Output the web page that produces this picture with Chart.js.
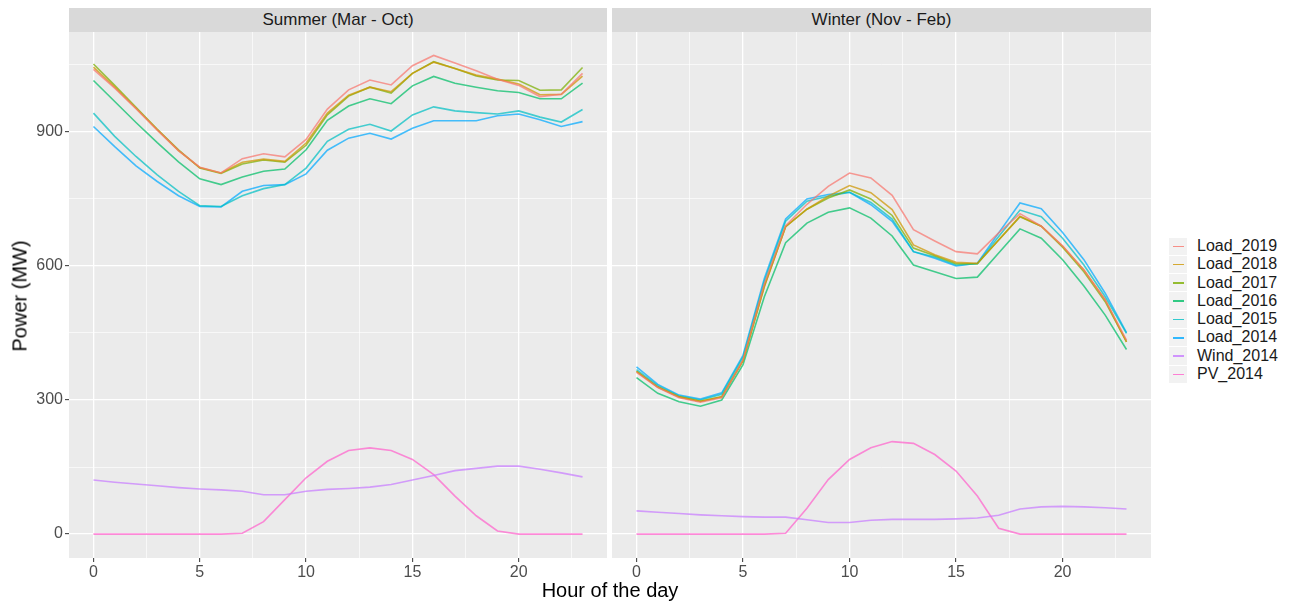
<!DOCTYPE html>
<html>
<head>
<meta charset="utf-8">
<script src="https://cdn.jsdelivr.net/npm/chart.js@4.4.1/dist/chart.umd.min.js"></script>
<style>
  html, body { margin:0; padding:0; background:#fff; }
  body { width:1289px; height:602px; position:relative; overflow:hidden; font-family:"Liberation Sans", Arial, sans-serif; }
  canvas { position:absolute; }
  .strip { position:absolute; top:8px; height:24px; background:#D9D9D9; color:#1A1A1A; font-size:17px; line-height:24px; text-align:center; }
  .ytitle { position:absolute; left:20px; top:296px; transform:translate(-50%,-50%) rotate(-90deg); font-size:20px; color:#000; white-space:nowrap; }
  .xtitle { position:absolute; left:610px; top:590px; transform:translate(-50%,-50%); font-size:20px; color:#000; white-space:nowrap; }
  #legend { position:absolute; left:1169px; top:237px; }
  .item { position:relative; height:18.3px; }
  .key { position:absolute; left:0; top:0.5px; width:18px; height:17.3px; background:#F2F2F2; }
  .key i { position:absolute; left:4px; right:3px; top:8px; height:1.6px; }
  .lab { position:absolute; left:28px; top:0; font-size:16px; line-height:18.3px; color:#1A1A1A; white-space:nowrap; }
</style>
</head>
<body>
<div class="strip" style="left:69px;width:538px;">Summer (Mar - Oct)</div>
<div class="strip" style="left:612px;width:539px;">Winter (Nov - Feb)</div>
<canvas id="cS" width="607" height="556" style="left:0px;top:32px;width:607px;height:556px;"></canvas>
<canvas id="cW" width="539" height="556" style="left:612px;top:32px;width:539px;height:556px;"></canvas>
<div class="ytitle">Power (MW)</div>
<div class="xtitle">Hour of the day</div>
<div id="legend"></div>
<script>
// ---- data ----
const hours = [0,1,2,3,4,5,6,7,8,9,10,11,12,13,14,15,16,17,18,19,20,21,22,23];
const seriesNames = ["Load_2019","Load_2018","Load_2017","Load_2016","Load_2015","Load_2014","Wind_2014","PV_2014"];
const panelTitles = ["Summer (Mar - Oct)","Winter (Nov - Feb)"];
const xMajorTicks = [0,5,10,15,20];
const xMinorTicks = [2.5,7.5,12.5,17.5,22.5];
const yMajorTicks = [0,300,600,900];
const yMinorTicks = [150,450,750,1050];

// Summer (Mar - Oct)
const summerLoad2019 = [1040,998,952,904,858,821,808,840,851,844,883,951,994,1016,1005,1048,1071,1054,1037,1018,1004,979,984,1031];
const summerLoad2018 = [1045,1000,953,905,858,820,808,832,839,834,875,942,982,1000,990,1031,1056,1042,1027,1018,1007,983,984,1025];
const summerLoad2017 = [1052,1004,955,906,860,819,807,828,837,832,870,938,980,1000,987,1031,1057,1042,1025,1016,1015,993,994,1044];
const summerLoad2016 = [1015,968,921,876,833,795,782,799,812,817,860,926,958,974,963,1003,1024,1009,1000,992,988,974,974,1009];
const summerLoad2015 = [942,890,845,804,767,735,733,757,773,782,819,879,906,917,902,938,956,947,943,940,947,933,922,950];
const summerLoad2014 = [912,867,824,789,757,733,732,767,780,782,806,859,886,897,884,908,925,925,925,936,940,927,912,923];
const summerWind2014 = [121,116,112,108,104,101,99,96,88,88,96,100,102,105,111,121,131,142,147,152,152,145,137,128];
const summerPV2014   = [0,0,0,0,0,0,0,2,28,77,126,163,187,193,187,167,133,85,41,7,0,0,0,0];

// Winter (Nov - Feb)
const winterLoad2019 = [362,328,305,295,305,390,560,690,738,778,808,797,758,681,656,632,627,674,717,689,645,591,524,434];
const winterLoad2018 = [364,329,307,297,307,388,553,688,727,756,780,764,726,647,625,608,606,658,711,689,644,591,524,430];
const winterLoad2017 = [364,329,307,297,307,388,555,688,727,752,770,750,713,640,623,605,605,658,710,689,642,587,520,430];
const winterLoad2016 = [350,315,296,286,300,379,531,652,696,720,730,707,667,602,587,572,575,629,683,662,614,555,490,413];
const winterLoad2015 = [368,332,309,300,313,396,566,700,745,756,765,742,705,632,620,602,605,666,725,710,662,602,531,449];
const winterLoad2014 = [374,335,311,302,316,400,572,705,750,760,765,737,700,632,617,600,606,674,741,728,675,614,539,451];
const winterWind2014 = [52,49,46,43,41,39,38,38,32,26,26,31,33,33,33,34,36,42,56,61,62,61,59,56];
const winterPV2014   = [0,0,0,0,0,0,0,2,58,122,167,193,207,203,178,141,85,13,0,0,0,0,0,0];

// ---- styles ----
const palette = ["#F8766D","#CD9600","#7CAE00","#00BE67","#00BFC4","#00A9FF","#C77CFF","#FF61CC"];
function withAlpha(hex, a){
  const r=parseInt(hex.slice(1,3),16), g=parseInt(hex.slice(3,5),16), b=parseInt(hex.slice(5,7),16);
  return `rgba(${r},${g},${b},${a})`;
}

const summerSeries = [summerLoad2019,summerLoad2018,summerLoad2017,summerLoad2016,summerLoad2015,summerLoad2014,summerWind2014,summerPV2014];
const winterSeries = [winterLoad2019,winterLoad2018,winterLoad2017,winterLoad2016,winterLoad2015,winterLoad2014,winterWind2014,winterPV2014];

function makeDatasets(series){
  return series.map((vals,i)=>({
    label: seriesNames[i],
    data: hours.map((h,j)=>({x:h, y:vals[j]})),
    borderColor: withAlpha(palette[i],0.72),
    backgroundColor: withAlpha(palette[i],0.72),
    borderWidth: 1.6,
    pointRadius: 0,
    tension: 0,
    fill: false
  }));
}

const bgPlugin = {
  id:'panelBg',
  beforeDraw(chart){
    const a = chart.chartArea, c = chart.ctx;
    c.save(); c.fillStyle = '#EBEBEB'; c.fillRect(a.left, a.top, a.right-a.left, a.bottom-a.top); c.restore();
  }
};

const isMajorX = v => xMajorTicks.includes(v);
const isMajorY = v => yMajorTicks.includes(v);

function makeChart(id, series, showY){
  const allX = xMajorTicks.concat(xMinorTicks).sort((a,b)=>a-b);
  const allY = yMajorTicks.concat(yMinorTicks).sort((a,b)=>a-b);
  return new Chart(document.getElementById(id), {
    type:'line',
    data:{ datasets: makeDatasets(series) },
    plugins:[bgPlugin],
    options:{
      responsive:false, animation:false, devicePixelRatio:1,
      layout:{ padding:0 },
      plugins:{ legend:{display:false}, title:{display:false}, tooltip:{enabled:false} },
      scales:{
        x:{
          type:'linear', min:-1.15, max:24.15,
          afterBuildTicks(s){ s.ticks = allX.map(v=>({value:v})); },
          afterFit(s){ s.height = 30; s.paddingLeft = 0; s.paddingRight = 0; },
          border:{display:false},
          grid:{
            color:'#FFFFFF',
            lineWidth: ctx => (ctx.tick && isMajorX(ctx.tick.value)) ? 1.3 : 0.65,
            tickColor: ctx => (ctx.tick && isMajorX(ctx.tick.value)) ? '#333333' : 'rgba(0,0,0,0)',
            tickWidth: 1, tickLength: 4, drawTicks:true
          },
          ticks:{
            autoSkip:false, maxRotation:0, padding:1,
            color:'#4D4D4D', font:{family:'"Liberation Sans", Arial, sans-serif', size:16},
            callback: v => isMajorX(v) ? String(v) : ''
          }
        },
        y:{
          type:'linear', min:-53.5, max:1123.5,
          afterBuildTicks(s){ s.ticks = allY.map(v=>({value:v})); },
          afterFit(s){ s.width = showY ? 69 : 0; s.paddingTop = 0; s.paddingBottom = 0; },
          border:{display:false},
          grid:{
            color:'#FFFFFF',
            lineWidth: ctx => (ctx.tick && isMajorY(ctx.tick.value)) ? 1.3 : 0.65,
            tickColor: ctx => (showY && ctx.tick && isMajorY(ctx.tick.value)) ? '#333333' : 'rgba(0,0,0,0)',
            tickWidth: 1, tickLength: showY ? 4 : 0, drawTicks: showY
          },
          ticks:{
            display: showY, padding:2,
            color:'#4D4D4D', font:{family:'"Liberation Sans", Arial, sans-serif', size:16},
            callback: v => isMajorY(v) ? String(v) : ''
          }
        }
      }
    }
  });
}

makeChart('cS', summerSeries, true);
makeChart('cW', winterSeries, false);

// legend built from the series names
const leg = document.getElementById('legend');
seriesNames.forEach((n,i)=>{
  const it = document.createElement('div'); it.className='item';
  const k = document.createElement('div'); k.className='key';
  const ln = document.createElement('i'); ln.style.background = withAlpha(palette[i],0.8);
  k.appendChild(ln);
  const t = document.createElement('div'); t.className='lab'; t.textContent = n;
  it.appendChild(k); it.appendChild(t); leg.appendChild(it);
});
</script>
</body>
</html>
